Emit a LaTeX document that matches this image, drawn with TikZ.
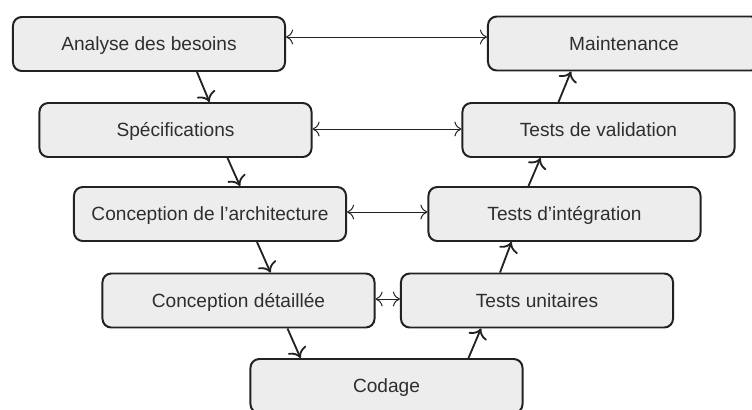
\documentclass[tikz,border=0pt]{standalone}
\usepackage{fontspec}
\setmainfont{Liberation Sans}
\usetikzlibrary{calc, arrows.meta}
\definecolor{boxgray}{HTML}{EDEDED}
\definecolor{inkgray}{HTML}{222222}

\begin{document}
\begin{tikzpicture}[x=0.025cm, y=-0.025cm,
    phase/.style={draw=inkgray, line width=1.4pt, fill=boxgray, rounded corners=0.22cm,
      minimum width=6.8cm, minimum height=1.35cm, inner sep=0pt, text=black!82,
      text height=9.7pt, text depth=0pt,
      font=\fontsize{13.6}{16}\selectfont},
    link/.style={-{To[scale=1.5]}, line width=1.3pt, inkgray},
    pair/.style={{To[scale=1.6]}-{To[scale=1.6]}, line width=0.7pt, inkgray}]
      \useasboundingbox (0, 0) rectangle (752, 409);
      \clip (0, 0) rectangle (752, 409);

      % left branch
      \node[phase] (analyse) at (149, 44){Analyse des besoins};
      \node[phase] (spec) at (175.5, 130){Spécifications};
      \node[phase] (archi) at (210, 214){Conception de l’architecture};
      \node[phase] (detail) at (238.5, 300.5){Conception détaillée};
      \node[phase] (codage) at (386.5, 386){Codage};
      % right branch
      \node[phase] (unit) at (537, 300.5){Tests unitaires};
      \node[phase] (integ) at (564.5, 214){Tests d’intégration};
      \node[phase] (valid) at (598.5, 130){Tests de validation};
      \node[phase] (maint) at (624, 43.5){Maintenance};

      \draw[link] ($(analyse.south)+(48, 0)$) -- ($(spec.north)+(34, 0)$);
      \draw[link] ($(spec.south)+(52, 0)$) -- ($(archi.north)+(30, 0)$);
      \draw[link] ($(archi.south)+(47, 0)$) -- ($(detail.north)+(32, 0)$);
      \draw[link] ($(detail.south)+(49, 0)$) -- ($(codage.north)+(-86, 0)$);

      \draw[link] ($(codage.north)+(82, 0)$) -- ($(unit.south)+(-56, 0)$);
      \draw[link] ($(unit.north)+(-37, 0)$) -- ($(integ.south)+(-53, 0)$);
      \draw[link] ($(integ.north)+(-36, 0)$) -- ($(valid.south)+(-58, 0)$);
      \draw[link] ($(valid.north)+(-40, 0)$) -- ($(maint.south)+(-53, 0)$);

      \draw[pair] ($(analyse.east)+(0, -7)$) -- ($(maint.west)+(0, -6.5)$);
      \draw[pair] ($(spec.east)+(0, -1)$) -- ($(valid.west)+(0, -1)$);
      \draw[pair] ($(archi.east)+(0, -2)$) -- ($(integ.west)+(0, -2)$);
      \draw[pair] ($(detail.east)+(0, -1.5)$) -- ($(unit.west)+(0, -1.5)$);
    \end{tikzpicture}
\end{document}
